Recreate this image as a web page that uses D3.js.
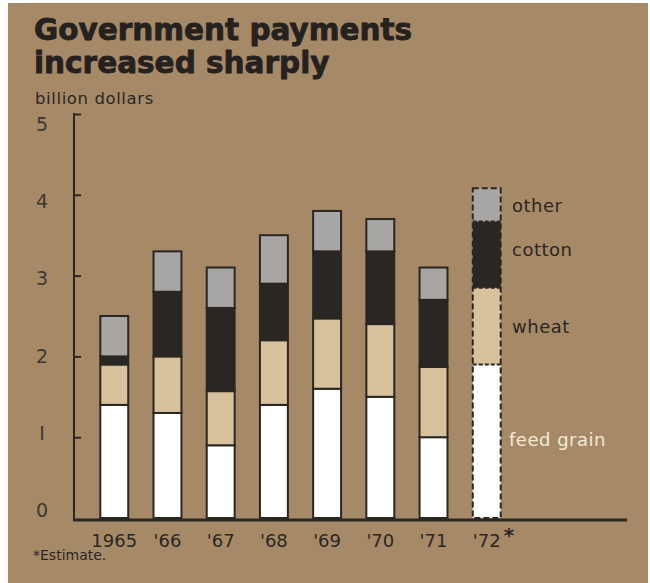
<!DOCTYPE html>
<html>
<head>
<meta charset="utf-8">
<script src="https://cdn.jsdelivr.net/npm/d3@7/dist/d3.min.js"></script>
<style>
  html, body { margin: 0; padding: 0; background: #ffffff; }
  svg { display: block; }
</style>
</head>
<body>
<svg id="chart" width="650" height="583"></svg>
<script>
// Government payments by commodity, billion dollars
const years = ["1965", "'66", "'67", "'68", "'69", "'70", "'71", "'72"];
const feedGrain = [1.4, 1.3, 0.9, 1.4, 1.6, 1.5, 1.0, 1.9];
const wheat     = [0.5, 0.7, 0.67, 0.8, 0.87, 0.9, 0.87, 0.95];
const cotton    = [0.1, 0.8, 1.03, 0.7, 0.83, 0.9, 0.83, 0.82];
const other     = [0.5, 0.5, 0.5, 0.6, 0.5, 0.4, 0.4, 0.41];
const seriesNames = ["feed grain", "wheat", "cotton", "other"];
const yTicks = [0, 1, 2, 3, 4, 5];
const estimated = ["'72"];

const colors = {
  "feed grain": "#ffffff",
  "wheat": "#d8c29d",
  "cotton": "#2a2623",
  "other": "#a8a6a4"
};
const ink = "#2b2622";
const bg = "#a68a68";

const svg = d3.select("#chart");

// paper background with a thin white margin on the left and top
svg.append("rect").attr("x", 0).attr("y", 0).attr("width", 650).attr("height", 583).attr("fill", "#ffffff");
svg.append("rect").attr("x", 8).attr("y", 3).attr("width", 640).attr("height", 580).attr("fill", bg);

// title
const title = svg.append("text")
  .attr("font-family", "DejaVu Sans")
  .attr("font-weight", "bold")
  .attr("font-size", 29.5)
  .attr("fill", "#25211e")
  .attr("stroke", "#25211e")
  .attr("stroke-width", 0.8);
title.append("tspan").attr("x", 34).attr("y", 40).text("Government payments");
title.append("tspan").attr("x", 34).attr("y", 73).text("increased sharply");

svg.append("text")
  .attr("x", 35).attr("y", 104)
  .attr("font-family", "DejaVu Sans")
  .attr("font-size", 16.5)
  .attr("letter-spacing", 0.6)
  .attr("fill", "#2b2622")
  .text("billion dollars");

// scales
const x = d3.scaleBand().domain(years).range([87, 514]).paddingInner(0.475).paddingOuter(0.25);
const y = d3.scaleLinear().domain([0, 5]).range([518, 114]);
// tick labels sit slightly inside the axis ends
const yLabel = d3.scaleLinear().domain([0, 5]).range([510, 124]);

// stacked data
const rows = years.map((yr, i) => ({
  year: yr,
  "feed grain": feedGrain[i],
  "wheat": wheat[i],
  "cotton": cotton[i],
  "other": other[i]
}));
const stack = d3.stack().keys(seriesNames)(rows);

// y axis line with inward ticks
const yAxis = d3.axisRight(y).tickValues(yTicks).tickSize(7).tickFormat("");
const yAxisG = svg.append("g").attr("transform", "translate(74,0)").call(yAxis);
yAxisG.select(".domain").remove();
yAxisG.selectAll(".tick line").attr("stroke", ink).attr("stroke-width", 2);
yAxisG.selectAll(".tick").filter(d => d === 0).remove();
svg.append("line")
  .attr("x1", 74).attr("x2", 74)
  .attr("y1", y(5) - 1).attr("y2", y(0) + 2)
  .attr("stroke", ink).attr("stroke-width", 2);

// y tick labels
svg.append("g").selectAll("text")
  .data(yTicks)
  .join("text")
  .attr("x", 42)
  .attr("y", d => yLabel(d) + 7)
  .attr("text-anchor", "middle")
  .attr("font-family", "DejaVu Sans")
  .attr("font-size", 19)
  .attr("fill", "#3d3731")
  .text(d => d === 1 ? "I" : d);

// bars
const layers = svg.append("g").selectAll("g")
  .data(stack)
  .join("g")
  .attr("fill", d => colors[d.key]);

layers.selectAll("rect")
  .data(d => d.map(p => ({ p, key: d.key })))
  .join("rect")
  .attr("x", d => x(d.p.data.year))
  .attr("y", d => y(d.p[1]))
  .attr("width", x.bandwidth())
  .attr("height", d => y(d.p[0]) - y(d.p[1]))
  .attr("stroke", d => estimated.includes(d.p.data.year) ? "none" : ink)
  .attr("stroke-width", 2);

// dashed outlines for the estimated bar
estimated.forEach(yr => {
  const i = years.indexOf(yr);
  const top = feedGrain[i] + wheat[i] + cotton[i] + other[i];
  const g = svg.append("g")
    .attr("fill", "none")
    .attr("stroke", ink)
    .attr("stroke-width", 2)
    .attr("stroke-dasharray", "6,3");
  g.append("rect")
    .attr("x", x(yr)).attr("y", y(top))
    .attr("width", x.bandwidth()).attr("height", y(0) - y(top));
  let cum = 0;
  [feedGrain[i], wheat[i], cotton[i]].forEach(v => {
    cum += v;
    g.append("line")
      .attr("x1", x(yr)).attr("x2", x(yr) + x.bandwidth())
      .attr("y1", y(cum)).attr("y2", y(cum))
      .attr("stroke-dasharray", "4,2");
  });
});

// x axis baseline
svg.append("line")
  .attr("x1", 73).attr("x2", 627)
  .attr("y1", 520).attr("y2", 520)
  .attr("stroke", ink).attr("stroke-width", 3);

// category labels
svg.append("g").selectAll("text")
  .data(years)
  .join("text")
  .attr("x", d => x(d) + x.bandwidth() / 2)
  .attr("y", 547)
  .attr("text-anchor", "middle")
  .attr("font-family", "DejaVu Sans")
  .attr("font-size", 18)
  .attr("fill", "#2b2622")
  .text(d => d);
svg.append("text")
  .attr("x", x("'72") + x.bandwidth() / 2 + 17)
  .attr("y", 542)
  .attr("font-family", "DejaVu Sans")
  .attr("font-weight", "bold")
  .attr("font-size", 20)
  .attr("fill", "#2b2622")
  .text("*");

svg.append("text")
  .attr("x", 33).attr("y", 560)
  .attr("font-family", "DejaVu Sans")
  .attr("font-size", 14)
  .attr("fill", "#2b2622")
  .text("*Estimate.");

// series labels beside the estimated bar (label centres in axis units)
const labelAt = { "other": 3.86, "cotton": 3.32, "wheat": 2.36, "feed grain": 0.97 };
svg.append("g").selectAll("text")
  .data(stack)
  .join("text")
  .attr("x", d => d.key === "feed grain" ? 509 : 512)
  .attr("y", d => y(labelAt[d.key]) + 6)
  .attr("font-family", "DejaVu Sans")
  .attr("font-size", 18)
  .attr("letter-spacing", 0.5)
  .attr("fill", d => d.key === "feed grain" ? "#f3ead2" : "#2b2622")
  .text(d => d.key);
</script>
</body>
</html>
